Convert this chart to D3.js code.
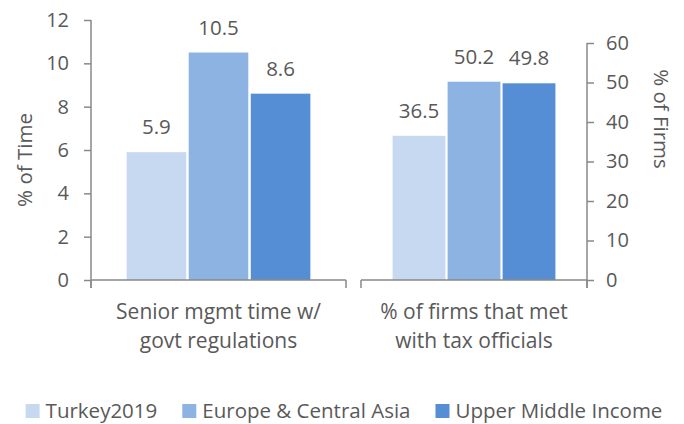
<!DOCTYPE html>
<html>
<head>
<meta charset="utf-8">
<script src="https://cdn.jsdelivr.net/npm/d3@7"></script>
<style>
  html, body { margin: 0; padding: 0; background: #fff; }
  svg { display: block; }
  text { font-family: "Open Sans", "Noto Sans", sans-serif; fill: #595959; }
</style>
</head>
<body>
<svg id="chart" width="684" height="424"></svg>
<script>
// ---- data ----
const series = ["Turkey2019", "Europe & Central Asia", "Upper Middle Income"];
const colors = ["#c6d9f0", "#8db3e2", "#558ed5"];
const leftCategory = ["Senior mgmt time w/", "govt regulations"];
const rightCategory = ["% of firms that met", "with tax officials"];
const leftValues = [5.9, 10.5, 8.6];
const rightValues = [36.5, 50.2, 49.8];
const leftTicks = [0, 2, 4, 6, 8, 10, 12];
const rightTicks = [0, 10, 20, 30, 40, 50, 60];
const leftTitle = "% of Time";
const rightTitle = "% of Firms";

// ---- layout ----
const svg = d3.select("#chart");
const axisColor = "#898989";
const baseY = 280;

const yL = d3.scaleLinear().domain([0, 12]).range([baseY, 20]);
const yR = d3.scaleLinear().domain([0, 60]).range([baseY, 43]);

const panels = [
  { x0: 91, x1: 346, y: yL, values: leftValues, label: leftCategory },
  { x0: 361, x1: 587, y: yR, values: rightValues, label: rightCategory }
];

panels.forEach((p) => {
  const key = p.label.join(" ");
  const outer = d3.scaleBand().domain([key]).range([p.x0, p.x1]).paddingOuter(0.194).paddingInner(0);
  const inner = d3.scaleBand().domain(series).range([outer(key), outer(key) + outer.bandwidth()]).paddingInner(0.04).paddingOuter(0);
  const g = svg.append("g");
  const data = series.map((s, i) => ({ s, v: p.values[i], c: colors[i] }));

  g.selectAll("rect").data(data).join("rect")
    .attr("x", d => inner(d.s))
    .attr("width", inner.bandwidth())
    .attr("y", d => p.y(d.v))
    .attr("height", d => baseY - p.y(d.v))
    .attr("fill", d => d.c);

  g.selectAll("text.val").data(data).join("text")
    .attr("class", "val")
    .attr("x", d => inner(d.s) + inner.bandwidth() / 2)
    .attr("y", d => p.y(d.v) - 18)
    .attr("text-anchor", "middle")
    .style("font-size", "20.5px")
    .text(d => d.v.toFixed(1));

  g.append("line").attr("x1", p.x0).attr("x2", p.x1).attr("y1", baseY).attr("y2", baseY)
    .attr("stroke", axisColor).attr("stroke-width", 1.6);
  [p.x0, p.x1].forEach(x => {
    g.append("line").attr("x1", x).attr("x2", x).attr("y1", baseY).attr("y2", baseY + 8)
      .attr("stroke", axisColor).attr("stroke-width", 1.5);
  });

  const cx = (p.x0 + p.x1) / 2;
  const t = g.append("text").attr("text-anchor", "middle").style("font-size", "21px");
  p.label.forEach((line, li) => {
    t.append("tspan").attr("x", cx).attr("y", 319 + li * 29).text(line);
  });
});

// left axis
const axL = svg.append("g").attr("transform", "translate(91,0)")
  .call(d3.axisLeft(yL).tickValues(leftTicks).tickSize(7).tickPadding(15).tickFormat(d3.format("d")));
axL.attr("font-family", null).attr("font-size", null);
axL.select(".domain").remove();
axL.selectAll(".tick line").attr("stroke", axisColor).attr("stroke-width", 1.5);
axL.selectAll(".tick text").style("font-size", "20px").attr("fill", "#595959");
svg.append("line").attr("x1", 91).attr("x2", 91).attr("y1", yL(12)).attr("y2", baseY + 8)
  .attr("stroke", axisColor).attr("stroke-width", 1.5);

// right axis
const axR = svg.append("g").attr("transform", "translate(587,0)")
  .call(d3.axisRight(yR).tickValues(rightTicks).tickSize(7).tickPadding(12).tickFormat(d3.format("d")));
axR.attr("font-family", null).attr("font-size", null);
axR.select(".domain").remove();
axR.selectAll(".tick line").attr("stroke", axisColor).attr("stroke-width", 1.5);
axR.selectAll(".tick text").style("font-size", "20px").attr("fill", "#595959");
svg.append("line").attr("x1", 587).attr("x2", 587).attr("y1", yR(60)).attr("y2", baseY + 8)
  .attr("stroke", axisColor).attr("stroke-width", 1.5);

// axis titles
svg.append("text").attr("transform", "translate(24,160) rotate(-90)")
  .attr("text-anchor", "middle").attr("dominant-baseline", "central")
  .style("font-size", "20.5px").text(leftTitle);
svg.append("text").attr("transform", "translate(662,119) rotate(90)")
  .attr("text-anchor", "middle").attr("dominant-baseline", "central")
  .style("font-size", "20.5px").text(rightTitle);

// legend
const leg = svg.append("g");
const items = leg.selectAll("g").data(series).join("g");
items.append("rect").attr("width", 14).attr("height", 14).attr("y", 404)
  .attr("fill", (d, i) => colors[i]);
items.append("text").attr("y", 418).attr("x", 20).style("font-size", "20.5px").text(d => d);
let cursor = 0;
const gap = 25;
items.each(function () {
  const w = this.getBBox().width;
  d3.select(this).attr("transform", `translate(${cursor},0)`);
  cursor += w + gap;
});
const total = cursor - gap;
leg.attr("transform", `translate(${344 - total / 2},0)`);
</script>
</body>
</html>
